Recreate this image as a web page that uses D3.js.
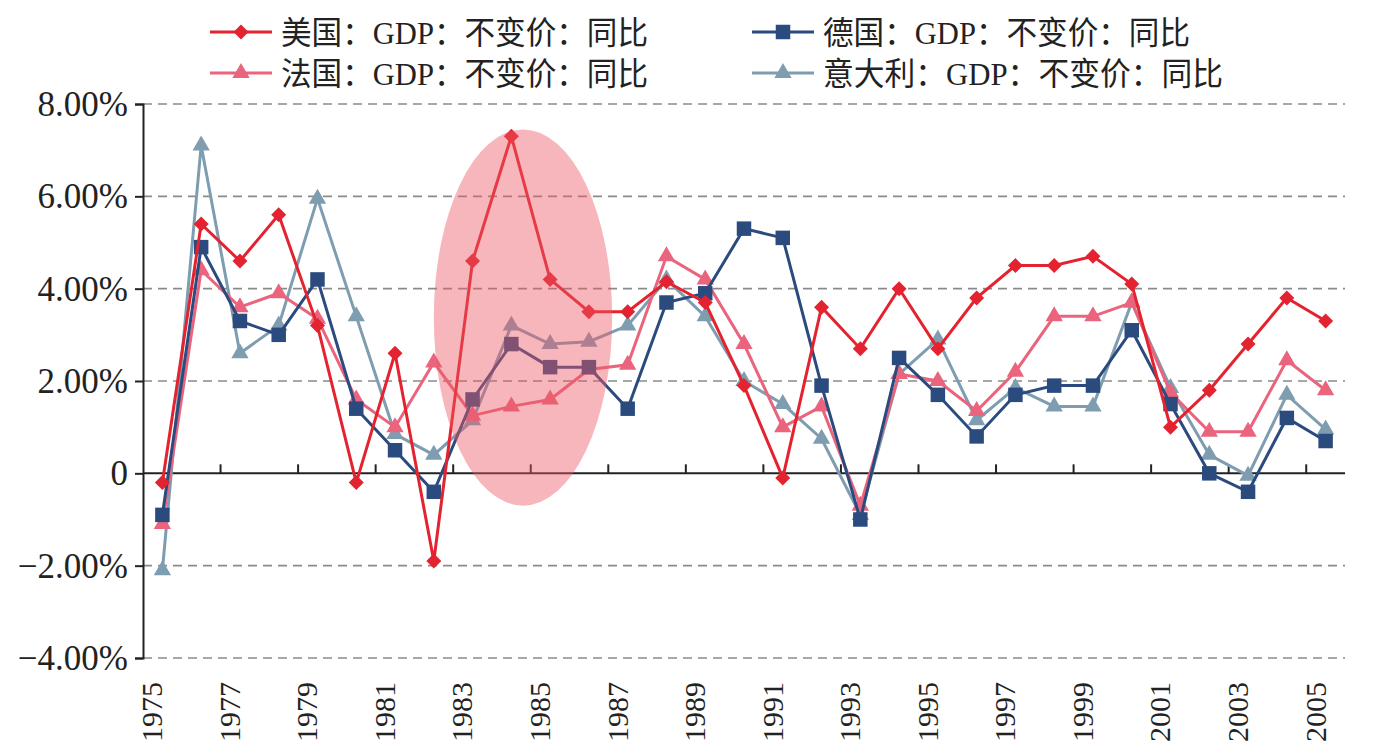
<!DOCTYPE html>
<html>
<head>
<meta charset="utf-8">
<script src="https://cdn.jsdelivr.net/npm/d3@7"></script>
<style>
  body { margin: 0; background: #fff; }
  svg { display: block; }
  .num { font-family: "Liberation Serif", "Times New Roman", serif; fill: #222; }
  .leg { font-family: "Liberation Serif", "Noto Sans CJK SC", serif; fill: #222; }
</style>
</head>
<body>
<div class="chart"></div>
<script>
"use strict";

const years = d3.range(1975, 2006);
const usa = [-0.2, 5.4, 4.6, 5.6, 3.2, -0.2, 2.6, -1.9, 4.6, 7.3, 4.2, 3.5, 3.5, 4.15, 3.7, 1.9, -0.1, 3.6, 2.7, 4.0, 2.7, 3.8, 4.5, 4.5, 4.7, 4.1, 1.0, 1.8, 2.8, 3.8, 3.3];
const germany = [-0.9, 4.9, 3.3, 3.0, 4.2, 1.4, 0.5, -0.4, 1.6, 2.8, 2.3, 2.3, 1.4, 3.7, 3.9, 5.3, 5.1, 1.9, -1.0, 2.5, 1.7, 0.8, 1.7, 1.9, 1.9, 3.1, 1.5, 0.0, -0.4, 1.2, 0.7];
const france = [-1.1, 4.4, 3.6, 3.9, 3.35, 1.6, 1.0, 2.4, 1.25, 1.45, 1.6, 2.25, 2.35, 4.7, 4.2, 2.8, 1.0, 1.45, -0.7, 2.15, 2.0, 1.35, 2.2, 3.4, 3.4, 3.7, 1.75, 0.9, 0.9, 2.45, 1.8];
const italy = [-2.1, 7.1, 2.6, 3.2, 5.95, 3.4, 0.85, 0.4, 1.15, 3.2, 2.8, 2.85, 3.2, 4.2, 3.4, 2.0, 1.5, 0.75, -0.9, 2.15, 2.9, 1.15, 1.85, 1.45, 1.45, 3.7, 1.85, 0.4, -0.05, 1.7, 0.95];

const yTicks = [8, 6, 4, 2, 0, -2, -4];
const xLabelYears = years.filter((y) => (y - 1975) % 2 === 0);
const xTickYears = years.filter((y) => y > 1975 && (y - 1975) % 2 === 0);

// highlighted span (years as fractional positions, values in %)
const highlight = { from: 1982, to: 1986.6, top: 7.45, bottom: -0.7 };

const series = [
  { name: "美国：GDP：不变价：同比", values: usa, color: "#e3232f", marker: "diamond" },
  { name: "德国：GDP：不变价：同比", values: germany, color: "#2b4b7e", marker: "square" },
  { name: "法国：GDP：不变价：同比", values: france, color: "#e9647c", marker: "triangle" },
  { name: "意大利：GDP：不变价：同比", values: italy, color: "#7e9db0", marker: "triangle" },
];

const width = 1390;
const height = 753;
const margin = { left: 143, right: 45, top: 104, bottom: 95 };

const svg = d3
  .select(".chart")
  .append("svg")
  .attr("width", width)
  .attr("height", height);

const x = d3
  .scaleBand()
  .domain(years)
  .range([margin.left, width - margin.right]);
const xc = (yr) => x(yr) + x.bandwidth() / 2;
const xFrac = d3
  .scaleLinear()
  .domain([1975, 2005])
  .range([xc(1975), xc(2005)]);

const y = d3
  .scaleLinear()
  .domain([-4, 8])
  .range([height - margin.bottom, margin.top]);

// grid lines
svg
  .selectAll(".grid")
  .data(yTicks.filter((t) => t !== 0))
  .enter()
  .append("line")
  .attr("x1", margin.left)
  .attr("x2", width - margin.right)
  .attr("y1", (d) => y(d))
  .attr("y2", (d) => y(d))
  .style("stroke", "#8a8a8a")
  .style("stroke-width", 1.6)
  .style("stroke-dasharray", "9,6");

// y axis
const yAxis = svg
  .append("g")
  .attr("transform", `translate(${margin.left},0)`)
  .call(
    d3.axisLeft(y)
      .tickValues(yTicks)
      .tickSize(8)
      .tickPadding(7)
      .tickFormat((d) => (d === 0 ? "0" : d3.format(".2f")(d).replace("-", "–") + "%"))
  );
yAxis.select(".domain").style("stroke", "#222").style("stroke-width", 2);
yAxis.selectAll(".tick line").style("stroke", "#222").style("stroke-width", 2);
yAxis
  .selectAll(".tick text")
  .attr("class", "num")
  .style("font-size", "35px")
  .attr("dy", "0.33em");

// zero line with ticks at every other category boundary
const zero = svg.append("g").attr("transform", `translate(0,${y(0)})`);
zero
  .append("line")
  .attr("x1", margin.left)
  .attr("x2", width - margin.right)
  .style("stroke", "#222")
  .style("stroke-width", 2);
zero
  .selectAll(".xt")
  .data(xTickYears)
  .enter()
  .append("line")
  .attr("x1", (d) => x(d))
  .attr("x2", (d) => x(d))
  .attr("y1", 0)
  .attr("y2", -9)
  .style("stroke", "#222")
  .style("stroke-width", 2);

// x labels
svg
  .selectAll(".xl")
  .data(xLabelYears)
  .enter()
  .append("text")
  .attr("class", "num")
  .attr("transform", (d) => `translate(${xc(d) - 10},682) rotate(-90)`)
  .attr("text-anchor", "end")
  .attr("dy", "0.33em")
  .style("font-size", "30px")
  .text((d) => d);

const markerPath = (type) => {
  if (type === "diamond") return "M0,-7.5L7.5,0L0,7.5L-7.5,0Z";
  if (type === "square") return d3.symbol(d3.symbolSquare, 210)();
  return d3.symbol(d3.symbolTriangle, 130)();
};

const line = d3
  .line()
  .x((d, i) => xc(years[i]))
  .y((d) => y(d));

// draw lines: italy, france, germany, usa order so usa is on top
const order = [3, 2, 1, 0];
order.forEach((k) => {
  const s = series[k];
  const g = svg.append("g");
  g.append("path")
    .datum(s.values)
    .attr("d", line)
    .style("fill", "none")
    .style("stroke", s.color)
    .style("stroke-width", 3);
  g.selectAll("path.m")
    .data(s.values)
    .enter()
    .append("path")
    .attr("class", "m")
    .attr("d", markerPath(s.marker))
    .attr("transform", (d, i) => `translate(${xc(years[i])},${y(d)})`)
    .style("fill", s.color);
});

// highlight ellipse
svg
  .append("ellipse")
  .attr("cx", (xFrac(highlight.from) + xFrac(highlight.to)) / 2)
  .attr("cy", (y(highlight.top) + y(highlight.bottom)) / 2)
  .attr("rx", (xFrac(highlight.to) - xFrac(highlight.from)) / 2)
  .attr("ry", (y(highlight.bottom) - y(highlight.top)) / 2)
  .style("fill", "#ec5866")
  .style("opacity", 0.44);

// legend
const legendPos = [
  { lx: 210, ly: 32 },
  { lx: 752, ly: 32 },
  { lx: 210, ly: 73 },
  { lx: 752, ly: 73 },
];
series.forEach((s, k) => {
  const p = legendPos[k];
  const g = svg.append("g").attr("transform", `translate(${p.lx},${p.ly})`);
  g.append("line")
    .attr("x1", 0)
    .attr("x2", 62)
    .style("stroke", s.color)
    .style("stroke-width", 3);
  g.append("path")
    .attr("d", markerPath(s.marker))
    .attr("transform", "translate(31,0)")
    .style("fill", s.color);
  g.append("text")
    .attr("class", "leg")
    .attr("x", 71)
    .attr("dy", "0.36em")
    .attr("textLength", s.name.length === 14 ? 400 : 367)
    .attr("lengthAdjust", "spacingAndGlyphs")
    .style("font-size", "32px")
    .text(s.name);
});
</script>
</body>
</html>
